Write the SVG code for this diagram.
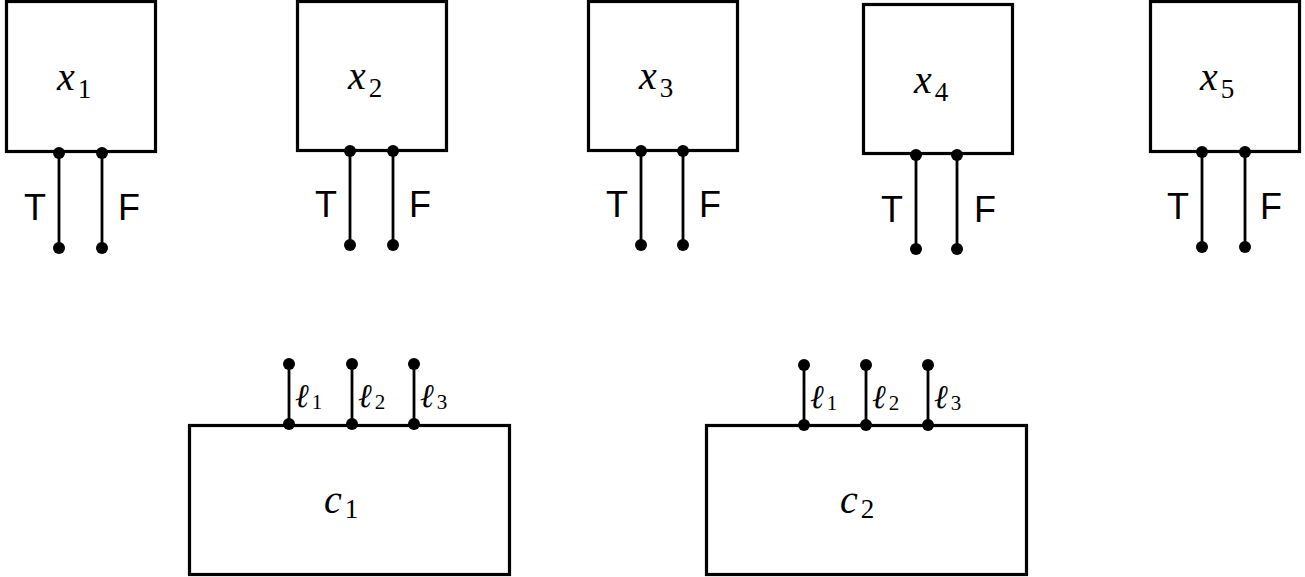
<svg xmlns="http://www.w3.org/2000/svg" width="1305" height="577" viewBox="0 0 1305 577">
<style>
.box{fill:#fff;stroke:#000;stroke-width:3.2}
.wire{stroke:#000;stroke-width:2.8}
.dot{fill:#000}
.tf{font-family:"Liberation Sans",Arial,sans-serif;font-size:36px;fill:#000;text-anchor:middle}
.var{font-family:"Liberation Serif","DejaVu Serif",serif;font-style:italic;font-size:40px;fill:#000}
.sub{font-family:"Liberation Serif","DejaVu Serif",serif;font-style:normal;font-size:27px}
.lit{font-family:"DejaVu Serif",serif;font-style:italic;font-size:33px;fill:#000}
.lsub{font-family:"Liberation Serif","DejaVu Serif",serif;font-style:normal;font-size:21px}
</style>
<rect width="1305" height="577" fill="#fff"/>
<g id="connectors">
<line class="wire" x1="59" y1="152" x2="59" y2="247"/>
<line class="wire" x1="102" y1="152" x2="102" y2="247"/>
<line class="wire" x1="350" y1="151" x2="350" y2="245"/>
<line class="wire" x1="393" y1="151" x2="393" y2="245"/>
<line class="wire" x1="641" y1="151" x2="641" y2="245"/>
<line class="wire" x1="683" y1="151" x2="683" y2="245"/>
<line class="wire" x1="916" y1="155" x2="916" y2="248"/>
<line class="wire" x1="957" y1="155" x2="957" y2="248"/>
<line class="wire" x1="1202" y1="152" x2="1202" y2="247"/>
<line class="wire" x1="1245" y1="152" x2="1245" y2="247"/>
<line class="wire" x1="289" y1="364" x2="289" y2="424"/>
<line class="wire" x1="352" y1="364" x2="352" y2="424"/>
<line class="wire" x1="414" y1="364" x2="414" y2="424"/>
<line class="wire" x1="804" y1="365" x2="804" y2="425"/>
<line class="wire" x1="866" y1="365" x2="866" y2="425"/>
<line class="wire" x1="928" y1="365" x2="928" y2="425"/>
</g>
<g id="x1">
<rect class="box" x="6.5" y="1.5" width="149" height="150"/>
<text class="var" x="57" y="90">x<tspan class="sub" dx="3" dy="8">1</tspan></text>
<circle class="dot" cx="59" cy="153" r="6"/><circle class="dot" cx="102" cy="153" r="6"/>
<circle class="dot" cx="59" cy="248" r="6"/><circle class="dot" cx="102" cy="248" r="6"/>
<text class="tf" x="35" y="220">T</text><text class="tf" x="129" y="220">F</text>
</g>
<g id="x2">
<rect class="box" x="297.5" y="1.5" width="149" height="149"/>
<text class="var" x="348" y="89">x<tspan class="sub" dx="3" dy="8">2</tspan></text>
<circle class="dot" cx="350" cy="151" r="6"/><circle class="dot" cx="393" cy="151" r="6"/>
<circle class="dot" cx="350" cy="245" r="6"/><circle class="dot" cx="393" cy="245" r="6"/>
<text class="tf" x="326" y="217">T</text><text class="tf" x="420" y="217">F</text>
</g>
<g id="x3">
<rect class="box" x="588.5" y="1.5" width="149" height="149"/>
<text class="var" x="639" y="89">x<tspan class="sub" dx="3" dy="8">3</tspan></text>
<circle class="dot" cx="641" cy="151" r="6"/><circle class="dot" cx="683" cy="151" r="6"/>
<circle class="dot" cx="641" cy="245" r="6"/><circle class="dot" cx="683" cy="245" r="6"/>
<text class="tf" x="617" y="217">T</text><text class="tf" x="710" y="217">F</text>
</g>
<g id="x4">
<rect class="box" x="863.5" y="4.5" width="149" height="149"/>
<text class="var" x="914" y="93">x<tspan class="sub" dx="3" dy="8">4</tspan></text>
<circle class="dot" cx="916" cy="155" r="6"/><circle class="dot" cx="957" cy="155" r="6"/>
<circle class="dot" cx="916" cy="249" r="6"/><circle class="dot" cx="957" cy="249" r="6"/>
<text class="tf" x="892" y="222">T</text><text class="tf" x="985" y="222">F</text>
</g>
<g id="x5">
<rect class="box" x="1150.5" y="1.5" width="149" height="150"/>
<text class="var" x="1200" y="90">x<tspan class="sub" dx="3" dy="8">5</tspan></text>
<circle class="dot" cx="1202" cy="152" r="6"/><circle class="dot" cx="1245" cy="152" r="6"/>
<circle class="dot" cx="1202" cy="247" r="6"/><circle class="dot" cx="1245" cy="247" r="6"/>
<text class="tf" x="1178" y="219">T</text><text class="tf" x="1271" y="219">F</text>
</g>
<g id="c1">
<rect class="box" x="189.5" y="425.5" width="320" height="149"/>
<text class="var" x="324" y="513">c<tspan class="sub" dx="3" dy="5">1</tspan></text>
<circle class="dot" cx="289" cy="364" r="6"/><circle class="dot" cx="352" cy="364" r="6"/><circle class="dot" cx="414" cy="364" r="6"/>
<circle class="dot" cx="289" cy="424" r="6"/><circle class="dot" cx="352" cy="424" r="6"/><circle class="dot" cx="414" cy="424" r="6"/>
<text class="lit" x="295" y="407">ℓ<tspan class="lsub" dx="3" dy="2">1</tspan></text>
<text class="lit" x="358" y="407">ℓ<tspan class="lsub" dx="3" dy="2">2</tspan></text>
<text class="lit" x="420" y="407">ℓ<tspan class="lsub" dx="3" dy="2">3</tspan></text>
</g>
<g id="c2">
<rect class="box" x="706.5" y="425.5" width="320" height="149"/>
<text class="var" x="840" y="513">c<tspan class="sub" dx="3" dy="5">2</tspan></text>
<circle class="dot" cx="804" cy="365" r="6"/><circle class="dot" cx="866" cy="365" r="6"/><circle class="dot" cx="928" cy="365" r="6"/>
<circle class="dot" cx="804" cy="425" r="6"/><circle class="dot" cx="866" cy="425" r="6"/><circle class="dot" cx="928" cy="425" r="6"/>
<text class="lit" x="810" y="408">ℓ<tspan class="lsub" dx="3" dy="2">1</tspan></text>
<text class="lit" x="872" y="408">ℓ<tspan class="lsub" dx="3" dy="2">2</tspan></text>
<text class="lit" x="934" y="408">ℓ<tspan class="lsub" dx="3" dy="2">3</tspan></text>
</g>
</svg>
